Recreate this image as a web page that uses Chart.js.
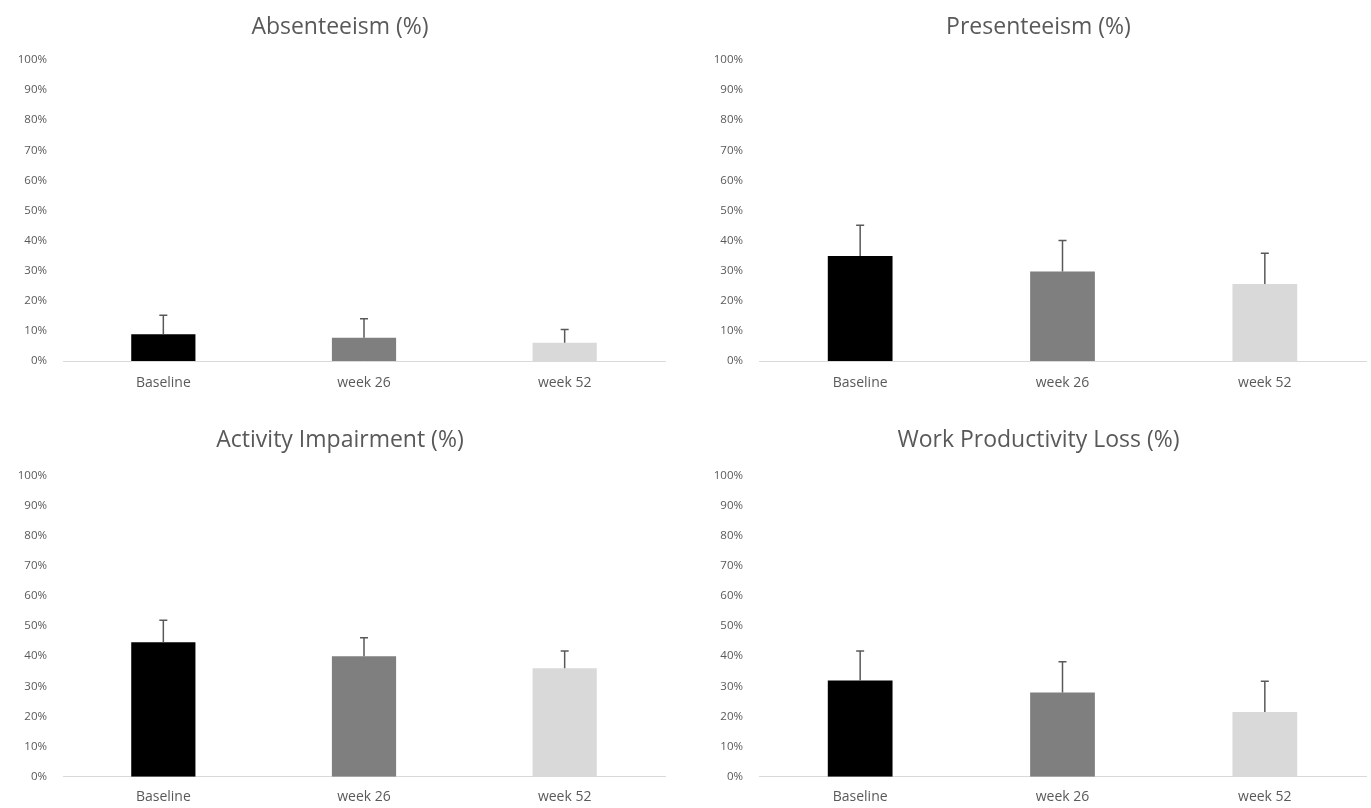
<!DOCTYPE html>
<html>
<head>
<meta charset="utf-8">
<script src="https://cdn.jsdelivr.net/npm/chart.js@4.4.0/dist/chart.umd.min.js"></script>
<style>
    body { margin: 0; background: #fff; }
    .panel { position: absolute; }
</style>
</head>
<body>
<div class="panel" style="left:0;top:0;width:685px;height:404px"><canvas id="absChart"></canvas></div>
<div class="panel" style="left:685px;top:0;width:686px;height:404px"><canvas id="presChart"></canvas></div>
<div class="panel" style="left:0;top:404px;width:685px;height:404px"><canvas id="actChart"></canvas></div>
<div class="panel" style="left:685px;top:404px;width:686px;height:404px"><canvas id="wplChart"></canvas></div>
<script>
const timepoints = ['Baseline', 'week 26', 'week 52'];
const barColors = ['#000000', '#7f7f7f', '#d9d9d9'];

// means and upper error (SD) per panel, in %
const absenteeism = [8.9, 7.7, 6.1];
const absenteeismSd = [6.3, 6.3, 4.4];
const presenteeism = [34.9, 29.7, 25.6];
const presenteeismSd = [10.2, 10.3, 10.2];
const activityImpairment = [44.6, 40.0, 36.0];
const activityImpairmentSd = [7.3, 6.1, 5.7];
const workProductivityLoss = [31.9, 27.9, 21.5];
const workProductivityLossSd = [9.8, 10.2, 10.2];

const textColor = '#595959';
const fontFamily = "'Open Sans', sans-serif";

// plus-only error bars with a small cap
const errorBars = {
    id: 'errorBars',
    afterDatasetsDraw(chart, args, opts) {
        const ctx = chart.ctx;
        const yScale = chart.scales.y;
        const meta = chart.getDatasetMeta(0);
        const values = chart.data.datasets[0].data;
        ctx.save();
        ctx.strokeStyle = textColor;
        ctx.lineWidth = 1.5;
        meta.data.forEach((bar, i) => {
            const top = yScale.getPixelForValue(values[i] + opts.sd[i]);
            ctx.beginPath();
            ctx.moveTo(bar.x, bar.y);
            ctx.lineTo(bar.x, top);
            ctx.moveTo(bar.x - 4, top);
            ctx.lineTo(bar.x + 4, top);
            ctx.stroke();
        });
        ctx.restore();
    }
};

function makeChart(id, title, values, sd, box) {
    new Chart(document.getElementById(id), {
        type: 'bar',
        data: {
            labels: timepoints,
            datasets: [{
                data: values,
                backgroundColor: barColors,
                borderWidth: 0,
                categoryPercentage: 1,
                barPercentage: 0.32
            }]
        },
        plugins: [errorBars],
        options: {
            responsive: true,
            maintainAspectRatio: false,
            animation: false,
            layout: {
                padding: { left: box.left, right: box.right, top: 0, bottom: 0 }
            },
            plugins: {
                legend: { display: false },
                tooltip: { enabled: false },
                errorBars: { sd: sd },
                title: {
                    display: true,
                    text: title,
                    color: textColor,
                    font: { family: fontFamily, size: 23, weight: 'normal' },
                    padding: { top: box.titleTop, bottom: box.titleBottom }
                }
            },
            scales: {
                x: {
                    grid: { display: false, drawTicks: false },
                    border: { display: true, color: '#d9d9d9', width: 1 },
                    ticks: {
                        color: textColor,
                        padding: box.xPad,
                        font: { family: fontFamily, size: 14 }
                    },
                    afterFit: s => { s.height = box.xHeight; }
                },
                y: {
                    min: 0,
                    max: 100,
                    grid: { display: false, drawTicks: false },
                    border: { display: false },
                    ticks: {
                        stepSize: 10,
                        color: textColor,
                        padding: 16,
                        font: { family: fontFamily, size: 11.5 },
                        callback: v => v + '%'
                    },
                    afterFit: s => { s.width = box.yWidth; }
                }
            }
        }
    });
}

const topRow = { titleTop: 13.2, titleBottom: 19.2, xHeight: 43, xPad: 13.5 };
const bottomRow = { titleTop: 22.2, titleBottom: 21.5, xHeight: 31.3, xPad: 12 };

makeChart('absChart', 'Absenteeism (%)', absenteeism, absenteeismSd,
    Object.assign({ left: 15, yWidth: 48, right: 20 }, topRow));
makeChart('presChart', 'Presenteeism (%)', presenteeism, presenteeismSd,
    Object.assign({ left: 26, yWidth: 48, right: 5 }, topRow));
makeChart('actChart', 'Activity Impairment (%)', activityImpairment, activityImpairmentSd,
    Object.assign({ left: 15, yWidth: 48, right: 20 }, bottomRow));
makeChart('wplChart', 'Work Productivity Loss (%)', workProductivityLoss, workProductivityLossSd,
    Object.assign({ left: 26, yWidth: 48, right: 5 }, bottomRow));
</script>
</body>
</html>
